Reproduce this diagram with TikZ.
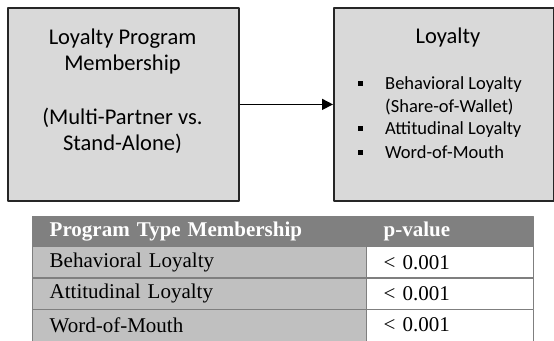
\documentclass[tikz,border=0pt]{standalone}
\usepackage{fontspec}
\setmainfont{Liberation Serif}
\newfontfamily\calibri{Carlito}
\usetikzlibrary{arrows.meta}
\definecolor{boxgray}{HTML}{D9D9D9}
\definecolor{headgray}{HTML}{808080}
\definecolor{cellgray}{HTML}{C0C0C0}
\definecolor{rulegray}{HTML}{7F7F7F}
\tikzset{
  bigbox/.style={draw=black!85, fill=boxgray, line width=1.8pt, inner sep=0pt, anchor=north west, minimum height=193pt},
  boxtext/.style={font=\calibri\fontsize{22.5}{26}\selectfont, align=center, inner sep=0pt},
  itemtext/.style={font=\calibri\fontsize{18.5}{22}\selectfont, anchor=base west, inner sep=0pt},
  rowcell/.style={anchor=north west, draw=rulegray, line width=1.4pt, minimum height=31.3pt, inner xsep=17pt, inner ysep=0pt, align=left, font=\fontsize{21}{24}\selectfont}
}
\begin{document}
\begin{tikzpicture}[x=1pt, y=-1pt, line join=round, >={Triangle[length=11pt,width=11pt]}]
  \useasboundingbox (0,0) rectangle (554,340);
  % the two boxes and the arrow
  \node[bigbox, minimum width=231pt] (prog) at (7,7) {};
  \node[bigbox, minimum width=220pt] (loy) at (333,7) {};
  \draw[->, line width=1.5pt] (prog) -- (loy);
  \node[boxtext] (progtitle) at (122.5,51.5) {Loyalty Program\\Membership};
  \node[boxtext] (progsub) at (122.5,130.5) {(Multi-Partner vs.\\Stand-Alone)};
  \node[boxtext] (loytitle) at (448,38) {Loyalty};
  \foreach \y/\t [count=\i] in {83/Behavioral Loyalty, 106/{(Share-of-Wallet)}, 128/Attitudinal Loyalty, 152/Word-of-Mouth}
    \node[itemtext] (item\i) at (385,\y+6) {\t};
  \foreach \y in {83,128,152}
    \fill (357.5,\y-2.5) rectangle ++(5,5);
  % table
  \node[rowcell, fill=headgray, draw=headgray, text width=300pt, minimum height=30pt, text=white, font=\bfseries\fontsize{21}{24}\selectfont] (headname) at (32,216) {Program Type Membership};
  \node[rowcell, fill=headgray, draw=headgray, text width=133pt, minimum height=30pt, text=white, font=\bfseries\fontsize{21}{24}\selectfont] (headpval) at (366,216) {p-value};
  \foreach \name [count=\r from 0] in {Behavioral Loyalty, Attitudinal Loyalty}{
    \node[rowcell, fill=cellgray, text width=300pt] (name\r) at (32,{246+31.3*\r}) {\name};
    \node[rowcell, fill=white, text width=133pt] (pval\r) at (366,{246+31.3*\r}) {< 0.001};
  }
  % last row runs past the bottom edge
  \node[rowcell, fill=cellgray, text width=300pt, minimum height=40pt, text depth=9pt] (name2) at (32,308.6) {Word-of-Mouth};
  \node[rowcell, fill=white, text width=133pt, minimum height=40pt, text depth=9pt] (pval2) at (366,308.6) {< 0.001};
\end{tikzpicture}
\end{document}
